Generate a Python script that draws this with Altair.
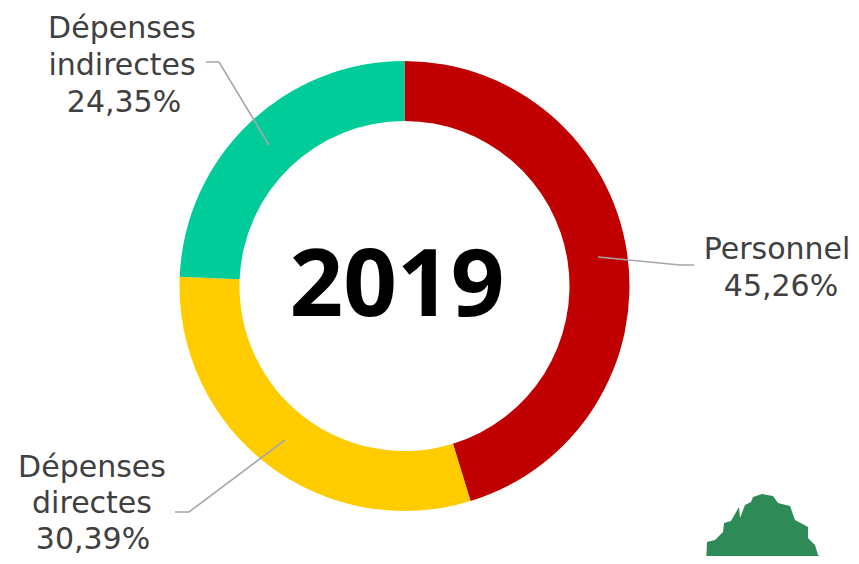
import altair as alt
import pandas as pd

categories = ["Personnel", "Dépenses directes", "Dépenses indirectes"]
shares = [45.26, 30.39, 24.35]
colors = ["#C00000", "#FFCC00", "#00CC99"]

label_lines = ["Dépenses", "indirectes", "24,35%", "Personnel", "45,26%", "Dépenses", "directes", "30,39%"]
label_x = [122, 122, 124, 777, 781, 92, 92, 93]
label_y = [29, 66, 103, 250, 287, 468, 504, 540]

leader_group = [0, 0, 0, 1, 1, 1, 2, 2, 2]
leader_x = [206, 219, 269, 598, 680, 694, 175, 189, 285]
leader_y = [62, 62, 145, 257, 265, 265, 512, 512, 440]

tree_x = [706, 707, 715, 723, 724, 731, 740, 739, 745, 751, 753, 762, 773, 778, 790, 795, 808, 808, 815, 818, 826, 827]
tree_y = [564, 542, 540, 532, 523, 521, 518, 507, 505, 502, 497, 494, 496, 503, 506, 520, 527, 538, 545, 555, 561, 564]

W, H = 843, 548
xs = alt.Scale(domain=[8, 851], range=[0, W], nice=False, zero=False)
ys = alt.Scale(domain=[8, 556], range=[0, H], nice=False, zero=False)

donut_df = pd.DataFrame({"cat": categories, "share": shares, "i": range(3)})
labels_df = pd.DataFrame({"t": label_lines, "x": label_x, "y": label_y})
leader_df = pd.DataFrame({"g": leader_group, "x": leader_x, "y": leader_y, "o": range(9)})
tree_df = pd.DataFrame({"x": tree_x, "y": tree_y})

donut = alt.Chart(donut_df).mark_arc(radius=225, radius2=165).encode(
    theta=alt.Theta("share:Q", stack=True),
    order=alt.Order("i:Q"),
    color=alt.Color("cat:N", scale=alt.Scale(domain=categories, range=colors), legend=None),
    x=alt.value(396.5),
    y=alt.value(278),
)

leaders = alt.Chart(leader_df).mark_line(color="#A6A6A6", strokeWidth=1.6).encode(
    x=alt.X("x:Q", scale=xs, axis=None),
    y=alt.Y("y:Q", scale=ys, axis=None),
    detail="g:N",
    order="o:Q",
)

labels = alt.Chart(labels_df).mark_text(
    font="DejaVu Sans", fontSize=30, color="#404040", align="center", baseline="middle"
).encode(
    x=alt.X("x:Q", scale=xs, axis=None),
    y=alt.Y("y:Q", scale=ys, axis=None),
    text="t:N",
)

center = alt.Chart(pd.DataFrame({"t": ["2019"], "x": [397], "y": [288]})).mark_text(
    font="Noto Sans", fontSize=94, fontWeight="bold", color="#000000", align="center", baseline="middle"
).encode(
    x=alt.X("x:Q", scale=xs, axis=None),
    y=alt.Y("y:Q", scale=ys, axis=None),
    text="t:N",
)

tree = alt.Chart(tree_df).mark_area(color="#2E8B57").encode(
    x=alt.X("x:Q", scale=xs, axis=None),
    y=alt.Y("y:Q", scale=ys, axis=None),
    y2=alt.Y2(datum=564),
)

chart = alt.layer(donut, leaders, labels, center, tree).properties(
    width=W, height=H, padding=0, autosize=alt.AutoSizeParams(type="none"),
    background="white",
).configure_view(stroke=None)

chart.save("out.html", embed_options={"renderer": "svg", "actions": False})
